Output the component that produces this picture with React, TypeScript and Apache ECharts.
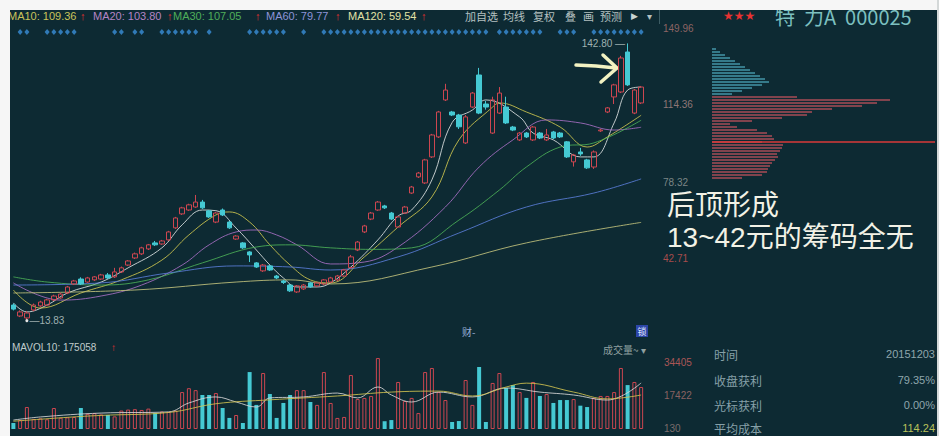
import React, { useEffect, useRef } from 'react';
import * as echarts from 'echarts';

// ---------- data ----------
const dayLabels: string[] = Array.from({ length: 96 }, (_, i) => String(i + 1));

const opens = [21.1, 16.0, 15.1, 18.8, 20.7, 21.1, 23.5, 24.4, 26.7, 30.9, 33.2, 31.8, 32.8, 33.2, 35.1, 34.2, 36.5, 39.7, 43.0, 44.9, 47.2, 50.0, 49.5, 51.4, 57.0, 63.5, 65.3, 66.7, 69.0, 64.9, 59.7, 65.3, 59.7, 51.8, 50.0, 45.8, 40.7, 37.0, 39.3, 34.6, 32.3, 30.4, 27.2, 28.6, 31.4, 30.0, 30.9, 31.8, 32.8, 34.6, 38.5, 46.7, 55.1, 61.1, 65.3, 67.2, 63.9, 57.4, 63.9, 73.2, 80.7, 77.9, 90.0, 99.3, 116.5, 110.9, 109.5, 96.5, 113.2, 128.1, 114.6, 101.1, 110.4, 113.2, 103.9, 97.9, 101.1, 97.9, 101.1, 97.9, 101.6, 101.1, 97.0, 87.7, 92.3, 88.6, 85.3, 102.1, 110.9, 117.9, 120.2, 138.8, 110.4, 115.1];
const closes = [19.2, 17.9, 17.4, 21.1, 22.5, 23.5, 25.3, 26.2, 29.5, 32.3, 30.9, 33.7, 34.2, 35.1, 33.7, 36.5, 38.4, 41.6, 44.9, 47.7, 49.1, 49.1, 50.9, 55.1, 61.6, 66.3, 67.7, 69.0, 66.3, 62.1, 63.9, 63.0, 57.0, 53.2, 47.7, 44.4, 38.8, 39.7, 37.4, 33.7, 31.6, 27.7, 30.0, 30.4, 29.5, 31.4, 32.8, 33.7, 34.6, 37.4, 43.5, 50.4, 57.9, 63.9, 69.0, 66.3, 61.1, 62.1, 66.7, 76.0, 82.5, 88.6, 100.2, 110.9, 121.1, 109.5, 104.0, 108.6, 119.7, 110.4, 113.2, 116.5, 119.7, 105.8, 102.5, 101.1, 99.3, 103.9, 98.8, 100.2, 98.8, 99.3, 90.0, 90.9, 91.4, 84.9, 92.3, 102.5, 112.8, 123.5, 136.0, 123.5, 121.1, 122.5];
const lows = [18.6, 15.5, 13.83, 18.2, 20.2, 20.6, 23.0, 24.0, 26.2, 30.4, 30.4, 31.4, 32.3, 32.8, 33.2, 33.7, 36.0, 39.3, 42.5, 44.4, 46.7, 48.6, 49.1, 51.0, 56.5, 63.0, 64.9, 66.3, 65.8, 61.6, 59.2, 62.5, 56.5, 51.4, 47.2, 41.1, 38.4, 36.5, 37.0, 33.2, 30.9, 27.2, 26.7, 28.1, 29.1, 29.5, 30.4, 31.4, 32.3, 34.2, 38.0, 46.2, 54.6, 60.6, 64.9, 65.8, 60.6, 57.0, 63.5, 72.8, 80.2, 77.4, 89.5, 98.8, 116.0, 109.0, 103.0, 96.0, 112.8, 109.9, 112.0, 100.7, 110.0, 105.3, 102.0, 97.4, 98.8, 97.4, 98.3, 97.4, 98.3, 98.8, 89.5, 85.5, 90.5, 84.4, 84.4, 101.6, 110.4, 114.6, 119.7, 123.0, 109.9, 114.6];
const highs = [21.8, 18.6, 18.2, 21.8, 23.1, 24.0, 25.9, 26.8, 30.0, 32.8, 34.0, 34.2, 34.6, 35.6, 36.0, 38.4, 39.0, 42.0, 45.5, 48.2, 49.5, 50.9, 51.4, 55.6, 62.1, 66.8, 68.2, 72.3, 70.0, 65.3, 64.4, 66.0, 60.2, 53.6, 50.4, 46.2, 41.1, 40.2, 39.7, 35.1, 32.8, 30.9, 30.4, 30.9, 31.8, 31.8, 33.2, 34.2, 35.1, 37.9, 44.4, 50.9, 58.4, 64.4, 69.5, 67.7, 64.4, 62.6, 67.2, 76.5, 83.0, 89.1, 100.7, 111.4, 124.0, 111.4, 110.0, 109.5, 120.2, 131.4, 116.0, 118.0, 122.5, 118.0, 104.4, 101.6, 101.6, 104.4, 101.6, 103.0, 102.1, 101.6, 97.4, 91.4, 94.2, 89.1, 93.0, 103.0, 113.2, 124.0, 137.0, 142.8, 121.6, 123.0];

const volumes = [3100, 4600, 11300, 5200, 5500, 5000, 10800, 5800, 6000, 6200, 10800, 7800, 8200, 7500, 7200, 6500, 9500, 10000, 10200, 9800, 10500, 8200, 9000, 8800, 9500, 19000, 21000, 20000, 17500, 17500, 18500, 10800, 5700, 7200, 3100, 29300, 12400, 28800, 18000, 5700, 13400, 17500, 20000, 20000, 13900, 12400, 29300, 13400, 5700, 6200, 27800, 15400, 16000, 17000, 36500, 4000, 4600, 24200, 14400, 16000, 8200, 29300, 31400, 19000, 14900, 3600, 4100, 25200, 12400, 31900, 3600, 23700, 28800, 21100, 22600, 19000, 16000, 24200, 17000, 18000, 13400, 14900, 14900, 15400, 12000, 11300, 16000, 17000, 17000, 19000, 31400, 22600, 24200, 21600];

// moving averages: [day index, value]
const ma5Pts = [[0, 22.1], [2, 17.9], [5, 21.1], [8, 26.7], [13, 31.8], [17, 38.4], [22, 47.7], [25, 58.4], [28, 65.3], [30, 65.0], [33, 56.9], [36, 46.7], [38, 39.7], [40, 33.7], [42, 29.5], [45, 29.5], [47, 31.4], [50, 38.8], [54, 51.4], [57, 62.5], [59, 65.3], [62, 79.3], [65, 106.0], [68, 111.8], [70, 116.5], [75, 108.6], [77, 101.1], [80, 97.9], [84, 90.0], [86, 90.0], [89, 105.8], [91, 121.1], [93, 122.5]];
const ma10Pts = [[0, 28.1], [4, 19.7], [10, 26.7], [16, 32.8], [22, 42.0], [26, 53.7], [30, 63.0], [32, 64.4], [35, 59.7], [38, 49.1], [41, 39.7], [44, 32.8], [47, 31.4], [52, 43.5], [57, 57.4], [62, 71.4], [66, 97.9], [71, 113.2], [72, 115.1], [76, 110.9], [81, 103.9], [85, 94.6], [88, 99.3], [93, 109.36]];
const ma20Pts = [[0, 31.4], [7, 23.4], [13, 25.3], [19, 30.4], [25, 39.7], [29, 49.1], [33, 55.1], [36, 56.0], [39, 53.7], [42, 49.1], [47, 40.2], [52, 41.1], [57, 48.1], [64, 66.7], [69, 85.3], [74, 97.9], [79, 107.2], [84, 105.8], [89, 102.5], [93, 103.8]];
const ma30Pts = [[0, 34.2], [5, 31.8], [13, 30.4], [20, 32.8], [28, 40.7], [36, 48.1], [41, 49.1], [47, 47.7], [53, 47.0], [59, 47.7], [66, 60.6], [72, 74.6], [76, 85.3], [81, 94.6], [86, 96.5], [93, 107.05]];
const ma60Pts = [[0, 30.4], [13, 31.4], [23, 36.0], [33, 39.3], [41, 38.8], [47, 37.4], [57, 43.5], [66, 54.6], [76, 66.7], [86, 73.2], [93, 79.77]];
const ma120Pts = [[0, 26.7], [18, 28.1], [33, 31.8], [41, 32.8], [47, 30.9], [62, 38.8], [76, 50.0], [93, 59.54]];

const mavol5Pts = [[0, 4600], [4, 6200], [13, 8200], [23, 8800], [26, 13400], [30, 16500], [33, 13900], [36, 11300], [38, 16000], [43, 16500], [48, 18500], [51, 16000], [54, 21600], [56, 17500], [59, 13900], [63, 19000], [68, 16500], [73, 21100], [78, 19000], [83, 17500], [88, 14900], [93, 23700]];
const mavol10Pts = [[0, 4000], [8, 6000], [13, 7000], [23, 8500], [30, 13000], [38, 15000], [48, 17000], [56, 19000], [63, 19500], [68, 17000], [73, 21600], [76, 23600], [83, 19000], [88, 15500], [93, 17500]];

const markerDays = [1, 2, 5, 6, 7, 8, 9, 15, 16, 18, 19, 22, 23, 24, 25, 26, 27, 29, 35, 36, 37, 38, 39, 40, 43, 46, 47, 48, 49, 50, 51, 52, 53, 54, 55, 56, 57, 58, 59, 60, 61, 62, 63, 64, 65, 66, 67, 68, 69, 70, 72, 73, 74, 75, 76, 77, 78, 81, 82, 83, 86, 87, 88, 89, 90, 91, 92, 93];

const chipPrices = [140.2, 138.8, 137.4, 136.0, 134.6, 133.2, 131.8, 130.4, 129.0, 127.6, 126.2, 124.8, 123.5, 122.1, 120.7, 119.3, 117.9, 116.5, 115.1, 113.7, 112.3, 110.9, 109.5, 108.1, 106.7, 105.3, 104.0, 102.5, 101.1, 99.7, 98.3, 97.0, 95.6, 94.2, 92.8, 91.4, 90.0, 88.6, 87.2, 85.8, 84.4, 83.0, 81.6, 80.2];
const chipAmounts = [4, 8, 13, 18, 23, 28, 33, 38, 43, 48, 53, 57, 50, 40, 30, 20, 85, 178, 165, 150, 120, 100, 95, 70, 40, 18, 25, 45, 55, 60, 62, 50, 71, 70, 68, 65, 66, 63, 60, 58, 56, 55, 50, 30];
const chipSplitPrice = 119;
const chipCursorPrice = 97.0;

const priceTicks = [42.71, 78.32, 114.36, 149.96];
const volumeTicks = [130, 17422, 34405];

const maLegend = [
  { label: 'MA10: 109.36', color: '#c9c35a' },
  { label: 'MA20: 103.80', color: '#b484c4' },
  { label: 'MA30: 107.05', color: '#4fae5a' },
  { label: 'MA60: 79.77', color: '#8e94d8' },
  { label: 'MA120: 59.54', color: '#e2e2a6' },
];
const toolbarItems = ['加自选', '均线', '复权', '叠', '画', '预测'];
const annotationLines = ['后顶形成', '13~42元的筹码全无'];
const infoRows = [
  { label: '时间', value: '20151203' },
  { label: '收盘获利', value: '79.35%' },
  { label: '光标获利', value: '0.00%' },
  { label: '平均成本', value: '114.24' },
];

// ---------- styles ----------
const BG = '#0d2a33';
const UP = '#cc4650';
const DOWN = '#45c9d3';
const LATIN = '"Liberation Sans", Arial, sans-serif';
const CJK = '"Noto Sans CJK SC", "Liberation Sans", sans-serif';
const LATIN_FIRST = '"Liberation Sans", "Noto Sans CJK SC", sans-serif';

const priceTickColors: Record<string, string> = { '42.71': '#a84c4c', '78.32': '#7c8686', '114.36': '#8e7676', '149.96': '#8c6464' };
const volTickColors: Record<string, string> = { '130': '#7a6c6c', '17422': '#8a6262', '34405': '#aa5656' };

function txt(text: string, x: number, y: number, fill: string, size: number, family = LATIN, align = 'left', weight = 'normal', lineHeight?: number, vAlign = 'middle') {
  const style: any = { text, fill, font: `${weight} ${size}px ${family}`, textAlign: align, textVerticalAlign: vAlign };
  if (lineHeight) style.lineHeight = lineHeight;
  return { type: 'text', x, y, silent: true, style };
}

export default function App() {
  const ref = useRef<HTMLDivElement>(null);

  useEffect(() => {
    if (!ref.current) return;
    const chart = echarts.init(ref.current, null, { renderer: 'svg' });

    const candleData = opens.map((o, i) => [o, closes[i], lows[i], highs[i]]);
    const volData = volumes.map((v, i) => {
      const up = closes[i] >= opens[i];
      return {
        value: v,
        itemStyle: up
          ? { color: 'rgba(0,0,0,0)', borderColor: UP, borderWidth: 1 }
          : { color: DOWN, borderColor: DOWN, borderWidth: 0 },
      };
    });
    const chipData = chipAmounts.map((v, i) => ({
      value: v,
      itemStyle: { color: chipPrices[i] >= chipSplitPrice ? '#3a8393' : '#8e4650', opacity: 0.9 },
    }));

    const maLine = (name: string, data: number[][], color: string, xi = 0) => ({
      type: 'line',
      name,
      data,
      xAxisIndex: xi,
      yAxisIndex: xi,
      smooth: 0.4,
      symbol: 'none',
      silent: true,
      lineStyle: { color, width: 1, opacity: 0.85 },
      z: 3,
    });

    const graphics: any[] = [];
    const legendX = [8, 93, 173, 266, 348];
    const arrowX = [80, 167, 255, 335, 421];
    maLegend.forEach((m, i) => {
      graphics.push(txt(m.label, legendX[i], 16, m.color, 11));
      graphics.push(txt('↑', arrowX[i], 16, '#e53030', 11, LATIN, 'left', 'bold'));
    });
    const toolX = [465, 503, 533, 565, 583, 600];
    toolbarItems.forEach((t, i) => graphics.push(txt(t, toolX[i], 16, '#b4c0c0', 11, CJK)));
    graphics.push(txt('▶', 631, 16, '#c8d4d4', 9, LATIN));
    graphics.push(txt('▾', 647, 16, '#b4c0c0', 10, LATIN));
    graphics.push({ type: 'line', silent: true, shape: { x1: 659.5, y1: 10, x2: 659.5, y2: 24 }, style: { stroke: '#3c5c64', lineWidth: 1 } });
    graphics.push(txt('★★★', 723, 16, '#e83232', 12, '"DejaVu Sans", sans-serif'));
    graphics.push(txt('特  力A  000025', 775, 16, '#7cc0c0', 20, CJK));

    // hand-drawn arrow
    graphics.push({ type: 'polyline', silent: true, shape: { points: [[576, 65], [596, 66], [616, 68]] }, style: { stroke: '#f2f2c2', lineWidth: 3.5, lineCap: 'round', fill: null } });
    graphics.push({ type: 'polyline', silent: true, shape: { points: [[603, 55], [617, 68], [601, 82]] }, style: { stroke: '#f2f2c2', lineWidth: 3.5, lineCap: 'round', lineJoin: 'round', fill: null } });

    // annotation
    graphics.push(txt(annotationLines[0], 667, 205.5, '#f2f2e6', 28, LATIN_FIRST));
    graphics.push(txt(annotationLines[1], 667, 237, '#f2f2e6', 28, LATIN_FIRST));

    // volume pane labels
    graphics.push(txt('MAVOL10: 175058', 12, 347, '#c0cccc', 10));
    graphics.push(txt('↑', 111, 347, '#e53030', 10, LATIN, 'left', 'bold'));
    graphics.push(txt('成交量~ ▾', 603, 349, '#8fa0a0', 10, CJK));
    graphics.push(txt('财-', 462, 331, '#9ab0d8', 10, CJK));
    graphics.push({ type: 'rect', silent: true, shape: { x: 636, y: 325, width: 12, height: 12 }, style: { fill: '#2c46a8' } });
    graphics.push(txt('锁', 642, 331, '#e0e8ff', 9, CJK, 'center'));

    // info panel
    const rowY = [354, 380, 405, 428];
    infoRows.forEach((r, i) => {
      graphics.push(txt(r.label, 714, rowY[i], '#86a0a8', 12, CJK, 'left', 'normal', 14));
      graphics.push(txt(r.value, 935, rowY[i], i === 3 ? '#b8c05a' : '#8fa6ac', 11, LATIN, 'right', 'normal', 13));
    });

    // page frame (white margins)
    graphics.push({ type: 'rect', silent: true, shape: { x: 0, y: 0, width: 939, height: 10 }, style: { fill: '#f6f6f6' } });
    graphics.push({ type: 'rect', silent: true, shape: { x: 0, y: 0, width: 10, height: 436 }, style: { fill: '#f6f6f6' } });
    graphics.push({ type: 'rect', silent: true, shape: { x: 937, y: 0, width: 2, height: 436 }, style: { fill: '#d4d8d8' } });

    const option: any = {
      animation: false,
      backgroundColor: BG,
      grid: [
        { left: 10, top: 28, width: 648, height: 302, outerBoundsMode: 'none' },
        { left: 10, top: 355, width: 648, height: 74, outerBoundsMode: 'none' },
        { left: 712, top: 47.5, width: 223, height: 132, outerBoundsMode: 'none' },
        { left: 10, top: 28, width: 648, height: 8, outerBoundsMode: 'none' },
      ],
      xAxis: [
        { type: 'category', gridIndex: 0, data: dayLabels, boundaryGap: true, show: false },
        { type: 'category', gridIndex: 1, data: dayLabels, boundaryGap: true, show: false },
        { type: 'value', gridIndex: 2, min: 0, max: 223, show: false },
        { type: 'category', gridIndex: 3, data: dayLabels, boundaryGap: true, show: false },
      ],
      yAxis: [
        {
          type: 'value', gridIndex: 0, position: 'right', min: 9.49, max: 149.96, scale: true,
          axisLine: { show: false }, axisTick: { show: false }, splitLine: { show: false },
          axisLabel: {
            customValues: priceTicks, margin: 5, fontSize: 10, fontFamily: 'Liberation Sans',
            formatter: (v: number) => v.toFixed(2),
            color: (v: any) => priceTickColors[Number(v).toFixed(2)] || '#808888',
          },
        },
        {
          type: 'value', gridIndex: 1, position: 'right', min: 0, max: 38080,
          axisLine: { show: false }, axisTick: { show: false }, splitLine: { show: false },
          axisLabel: {
            customValues: volumeTicks, margin: 6, fontSize: 10, fontFamily: 'Liberation Sans',
            formatter: (v: number) => String(Math.round(v)),
            color: (v: any) => volTickColors[String(Math.round(Number(v)))] || '#807070',
          },
        },
        { type: 'category', gridIndex: 2, data: chipPrices.map((p) => p.toFixed(1)), inverse: true, show: false },
        { type: 'value', gridIndex: 3, min: 0, max: 1, show: false },
      ],
      series: [
        {
          type: 'candlestick',
          name: 'K',
          xAxisIndex: 0,
          yAxisIndex: 0,
          data: candleData,
          barWidth: 5,
          z: 4,
          itemStyle: { color: 'rgba(0,0,0,0)', color0: DOWN, borderColor: UP, borderColor0: DOWN, borderWidth: 1 },
          markPoint: {
            silent: true,
            data: [
              {
                type: 'max', valueDim: 'highest', symbol: 'circle', symbolSize: 1,
                itemStyle: { color: 'rgba(0,0,0,0)' },
                label: { show: true, position: 'left', distance: 2, color: '#9fb0b0', fontSize: 10, formatter: (p: any) => `${Number(p.value).toFixed(2)} —` },
              },
              {
                type: 'min', valueDim: 'lowest', symbol: 'circle', symbolSize: 3,
                itemStyle: { color: '#e8e8e8' },
                label: { show: true, position: 'right', distance: 1, color: '#9fb0b0', fontSize: 10, formatter: (p: any) => `—${Number(p.value).toFixed(2)}` },
              },
            ],
          },
        },
        maLine('MA5', ma5Pts, '#dfe4e4'),
        maLine('MA10', ma10Pts, '#d0c850'),
        maLine('MA20', ma20Pts, '#a870c4'),
        maLine('MA30', ma30Pts, '#4cb058'),
        maLine('MA60', ma60Pts, '#5a7ed8'),
        maLine('MA120', ma120Pts, '#c4c47e'),
        {
          type: 'bar',
          name: 'VOL',
          xAxisIndex: 1,
          yAxisIndex: 1,
          data: volData,
          barWidth: 4,
          z: 2,
        },
        maLine('MAVOL5', mavol5Pts, '#d8d8d8', 1),
        maLine('MAVOL10', mavol10Pts, '#d4c450', 1),
        {
          type: 'scatter',
          name: 'events',
          xAxisIndex: 3,
          yAxisIndex: 3,
          data: markerDays.map((d) => [d, 0.5]),
          symbol: 'diamond',
          symbolSize: [5, 6],
          itemStyle: { color: '#3a8ed8' },
          silent: true,
        },
        {
          type: 'bar',
          name: 'chips',
          xAxisIndex: 2,
          yAxisIndex: 2,
          data: chipData,
          barWidth: 2,
          silent: true,
          markLine: {
            silent: true,
            symbol: 'none',
            label: { show: false },
            lineStyle: { color: '#d83a3a', width: 1.5, type: 'solid' },
            data: [{ yAxis: chipCursorPrice.toFixed(1) }],
          },
        },
      ],
      graphic: { elements: graphics },
    };

    chart.setOption(option);
    return () => chart.dispose();
  }, []);

  return <div ref={ref} style={{ position: 'fixed', left: 0, top: 0, width: 939, height: 436 }} />;
}
